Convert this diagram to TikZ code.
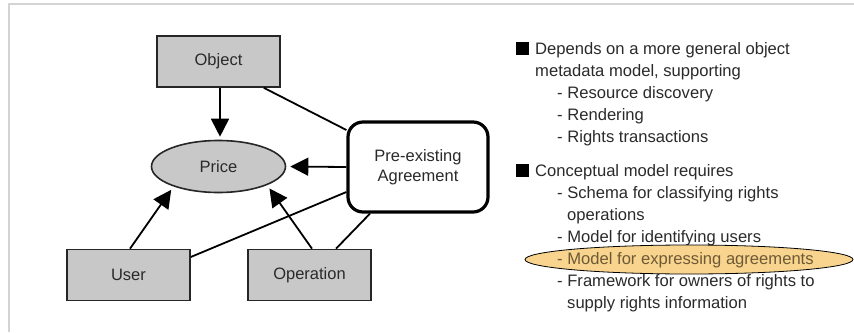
\documentclass[tikz,border=0pt]{standalone}
\usepackage{fontspec}
\setmainfont{Liberation Sans}
\usetikzlibrary{shapes.geometric,arrows.meta,calc}
\definecolor{boxgray}{HTML}{C8C8C8}
\definecolor{txt}{HTML}{2A2A2A}
\definecolor{hl}{HTML}{F8D48E}
\definecolor{hltxt}{HTML}{6E5A36}
\definecolor{frame}{HTML}{D4D4D4}
\tikzset{
  graybox/.style={draw=black!85, line width=1.6pt, fill=boxgray, minimum width=123pt, minimum height=51pt, inner sep=0pt, font=\fontsize{16.5}{20}\selectfont, text=txt},
  priceell/.style={ellipse, draw=black!85, line width=1.6pt, fill=boxgray, minimum width=134pt, minimum height=52pt, inner sep=0pt, font=\fontsize{16.5}{20}\selectfont, text=txt},
  agrbox/.style={draw=black, line width=3.2pt, rounded corners=15pt, fill=white, minimum width=140pt, minimum height=90pt, inner sep=0pt, align=center, font=\fontsize{16.5}{20}\selectfont, text=txt},
  conn/.style={line width=1.8pt, black},
  arr/.style={conn, -{Triangle[length=18pt,width=18pt]}},
  line/.style={anchor=base west, inner sep=0pt, font=\fontsize{16.6}{20}\selectfont, text=txt},
  bul/.style={fill=black, minimum size=12.5pt, inner sep=0pt},
}
\begin{document}
\begin{tikzpicture}[x=1pt,y=-1pt]
\useasboundingbox (0,0) rectangle (854,332);
\draw[frame, line width=1.2pt] (9,332) -- (9,4) -- (854,4);
% diagram nodes
\node[graybox] (obj) at (218.5,61.5) {Object};
\node[priceell] (price) at (218.5,166.5) {Price};
\node[agrbox] (agr) at (418,167) {Pre-existing\\Agreement};
\node[graybox] (user) at (128.5,275) {User};
\node[graybox] (op) at (309.5,275) {Operation};
% connectors
\draw[arr] ([xshift=1.5pt]obj.south) -- ([xshift=1.5pt,yshift=3pt]price.north);
\draw[conn] ([xshift=-17pt]obj.south east) -- ([yshift=37pt]agr.west);
\draw[arr, shorten >=4pt] (agr.west) -- (price.east);
\draw[arr, shorten >=4pt] ([xshift=1.5pt]user.north) -- (price.204);
\draw[arr, shorten >=4pt] ([xshift=2.5pt]op.north) -- (price.339);
\draw[conn] ([yshift=18pt]user.east) -- ([yshift=-25pt]agr.west);
\draw[conn] ([xshift=26.5pt]op.north) -- ([xshift=-48pt]agr.south);
% text list
\node[bul] (b1) at (522.5,48.5) {};
\node[line] (t1) at (535,54) {Depends on a more general object};
\node[line] (t2) at (535,76) {metadata model, supporting};
\node[line] (t3) at (557,98) {- Resource discovery};
\node[line] (t4) at (557,120) {- Rendering};
\node[line] (t5) at (557,142) {- Rights transactions};
\node[bul] (b2) at (522.5,170.5) {};
\node[line] (t6) at (535,176) {Conceptual model requires};
\node[line] (t7) at (557,198) {- Schema for classifying rights};
\node[line] (t8) at (567,220) {operations};
\node[line] (t9) at (557,242) {- Model for identifying users};
\node[ellipse, draw=black, line width=0.8pt, fill=hl, minimum width=328pt, minimum height=29pt, inner sep=0pt] (hlell) at (689,259.5) {};
\node[line, text=hltxt] (t10) at (557,264) {- Model for expressing agreements};
\node[line] (t11) at (557,286) {- Framework for owners of rights to};
\node[line] (t12) at (567,308) {supply rights information};
\end{tikzpicture}
\end{document}
